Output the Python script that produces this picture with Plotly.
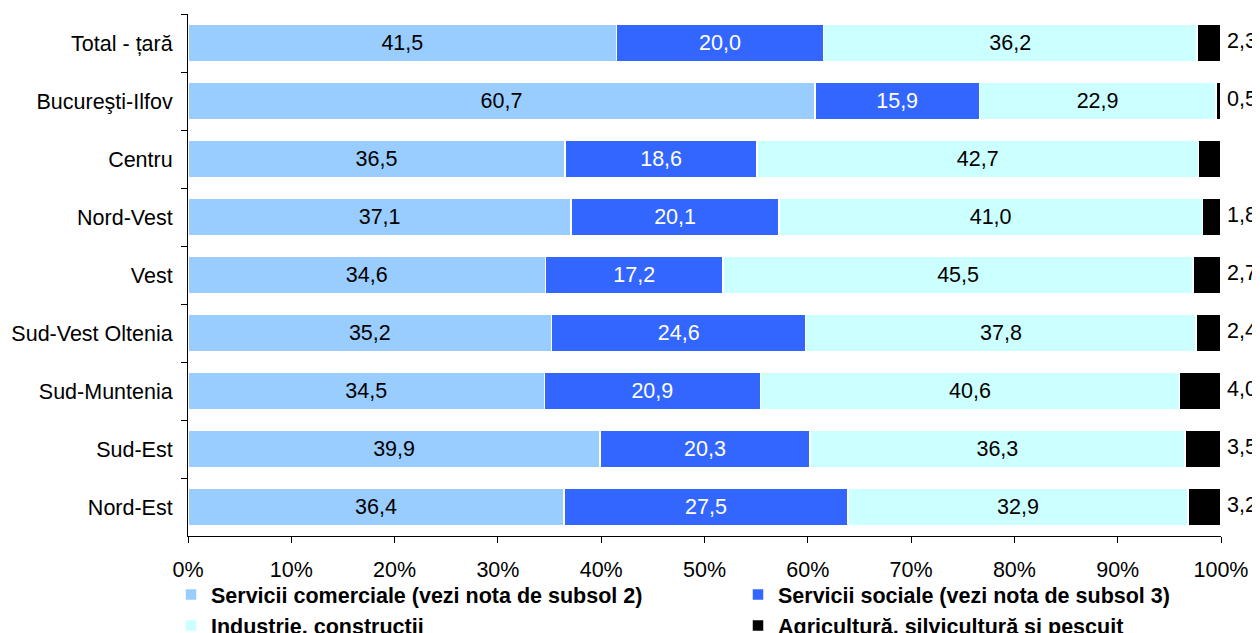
import plotly.graph_objects as go

# Structura populatiei ocupate pe regiuni (%)
regions = ['Total - țară', 'Bucureşti-Ilfov', 'Centru', 'Nord-Vest', 'Vest',
           'Sud-Vest Oltenia', 'Sud-Muntenia', 'Sud-Est', 'Nord-Est']
servicii_comerciale = [41.5, 60.7, 36.5, 37.1, 34.6, 35.2, 34.5, 39.9, 36.4]
servicii_sociale = [20.0, 15.9, 18.6, 20.1, 17.2, 24.6, 20.9, 20.3, 27.5]
industrie = [36.2, 22.9, 42.7, 41.0, 45.5, 37.8, 40.6, 36.3, 32.9]
agricultura = [2.3, 0.5, 2.2, 1.8, 2.7, 2.4, 4.0, 3.5, 3.2]

# name, values, colour, label colour, legend
series = [
    ('Servicii comerciale (vezi nota de subsol 2)', servicii_comerciale, '#99CCFF', 'black', 'legend'),
    ('Servicii sociale (vezi nota de subsol 3)', servicii_sociale, '#3366FF', 'white', 'legend2'),
    ('Industrie, construcții', industrie, '#CCFFFF', 'black', 'legend'),
    ('Agricultură, silvicultură şi pescuit', agricultura, '#000000', 'black', 'legend2'),
]

FONT = 'Liberation Sans, Arial, sans-serif'
SIZE = 21.5

fig = go.Figure()
for name, values, color, txtcolor, leg in series:
    inside = color != '#000000'
    fig.add_trace(go.Bar(
        y=regions,
        x=values,
        name=name,
        legend=leg,
        orientation='h',
        marker=dict(color=color, line=dict(color='white', width=1.5)),
        texttemplate='%{x:.1f}' if inside else None,
        textposition='inside' if inside else 'none',
        insidetextanchor='middle',
        constraintext='none',
        textfont=dict(family=FONT, size=SIZE, color=txtcolor),
    ))

# labels of the last (small) segment, written just after the end of each bar
totals = [a + b + c + d for a, b, c, d in zip(servicii_comerciale, servicii_sociale, industrie, agricultura)]
fig.add_trace(go.Scatter(
    y=regions,
    x=totals,
    mode='text',
    customdata=agricultura,
    texttemplate=' %{customdata:.1f}',
    textposition='middle right',
    textfont=dict(family=FONT, size=SIZE, color='black'),
    showlegend=False,
    cliponaxis=False,
    hoverinfo='skip',
))

legend_style = dict(
    orientation='v',
    xref='container',
    yref='container',
    xanchor='left',
    yanchor='top',
    y=1 - 566 / 633,
    traceorder='normal',
    font=dict(family=FONT, size=SIZE, color='black', weight='bold'),
    tracegroupgap=0,
    bgcolor='rgba(0,0,0,0)',
)

# the page puts the figure 8px in from the top-left corner
fig.update_layout(
    barmode='stack',
    bargap=0.36,
    width=1260,
    height=633,
    margin=dict(l=180, r=47, t=6, b=105, autoexpand=False),
    plot_bgcolor='white',
    paper_bgcolor='white',
    separators=',.',
    font=dict(family=FONT, size=SIZE, color='black'),
    showlegend=True,
    legend=dict(legend_style, x=163 / 1260),
    legend2=dict(legend_style, x=730 / 1260),
)
fig.update_xaxes(
    range=[0, 100],
    dtick=10,
    ticksuffix='%',
    showgrid=False,
    zeroline=False,
    showline=True,
    linecolor='black',
    linewidth=1,
    ticks='outside',
    ticklen=6,
    tickcolor='black',
    ticklabelstandoff=8,
    automargin=False,
)
fig.update_yaxes(
    autorange='reversed',
    showgrid=False,
    showline=True,
    linecolor='black',
    linewidth=1,
    ticks='outside',
    ticklen=6,
    tickcolor='black',
    tickson='boundaries',
    ticklabelstandoff=10,
    automargin=False,
)

fig.write_html('out.html')
